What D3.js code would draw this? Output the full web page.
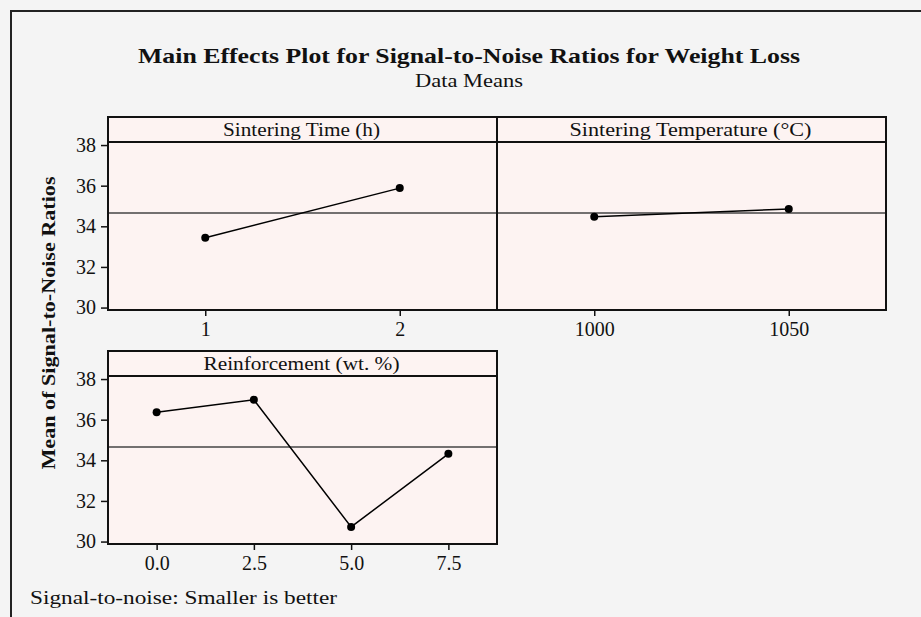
<!DOCTYPE html>
<html>
<head>
<meta charset="utf-8">
<script src="https://cdn.jsdelivr.net/npm/d3@7"></script>
<style>
  body { margin: 0; background: #f4f4f4; }
  svg text { font-family: "Liberation Serif", serif; fill: #111; }
  .axis path, .axis line { stroke: #111; stroke-width: 1.5; }
</style>
</head>
<body>
<div class="chart"></div>
<script>
// data
const factorNames = ["Sintering Time (h)", "Sintering Temperature (°C)", "Reinforcement (wt. %)"];
const timeLevels = ["1", "2"];
const timeMeans = [33.44, 35.88];
const tempLevels = ["1000", "1050"];
const tempMeans = [34.47, 34.85];
const reinfLevels = ["0.0", "2.5", "5.0", "7.5"];
const reinfMeans = [36.37, 36.98, 30.72, 34.32];
const yTicks = [30, 32, 34, 36, 38];
const grandMean = 34.66;

const W = 921, H = 617;
const panelW = 389, stripH = 25, plotH = 168;

const svg = d3.select(".chart")
    .append("svg")
    .attr("width", W)
    .attr("height", H);

svg.append("rect")
    .attr("width", W).attr("height", H)
    .attr("fill", "#f4f4f4");

// outer frame (runs off the right and bottom edges)
svg.append("rect")
    .attr("x", 11).attr("y", 11)
    .attr("width", W + 20).attr("height", H + 20)
    .attr("fill", "none")
    .attr("stroke", "#222")
    .attr("stroke-width", 2);

// the reference font is wider than Liberation Serif, so stretch to its widths
function label(sel, x, y, size, width, txt) {
    return sel.append("text")
        .attr("x", x).attr("y", y)
        .attr("font-size", size)
        .attr("textLength", width)
        .attr("lengthAdjust", "spacingAndGlyphs")
        .text(txt);
}

label(svg, 469, 63, 22, 662, "Main Effects Plot for Signal-to-Noise Ratios for Weight Loss")
    .attr("text-anchor", "middle")
    .attr("font-weight", "bold");

label(svg, 469, 87, 18, 108, "Data Means")
    .attr("text-anchor", "middle");

label(svg, 0, 0, 19, 293, "Mean of Signal-to-Noise Ratios")
    .attr("transform", "translate(55,323) rotate(-90)")
    .attr("text-anchor", "middle")
    .attr("font-weight", "bold");

label(svg, 30, 604, 19, 307, "Signal-to-noise: Smaller is better");

const stripWidths = [157, 242, 196];

const panels = [
    {name: factorNames[0], levels: timeLevels, means: timeMeans, x: 108, y: 117, yAxis: true, w: stripWidths[0]},
    {name: factorNames[1], levels: tempLevels, means: tempMeans, x: 497, y: 117, yAxis: false, w: stripWidths[1]},
    {name: factorNames[2], levels: reinfLevels, means: reinfMeans, x: 108, y: 351, yAxis: true, w: stripWidths[2]}
];

const yScale = d3.scaleLinear()
    .domain([29.88, 38.15])
    .range([plotH, 0]);

panels.forEach(p => {
    const g = svg.append("g")
        .attr("transform", "translate(" + p.x + "," + p.y + ")");

    const xScale = d3.scalePoint()
        .domain(p.levels)
        .range([0, panelW])
        .padding(0.5);

    // strip
    g.append("rect")
        .attr("width", panelW).attr("height", stripH)
        .attr("fill", "#fdf3f2");
    label(g, panelW / 2 - 1, 19, 19, p.w, p.name)
        .attr("text-anchor", "middle");

    const pg = g.append("g")
        .attr("transform", "translate(0," + stripH + ")");

    pg.append("rect")
        .attr("width", panelW).attr("height", plotH)
        .attr("fill", "#fdf3f2");

    // grand mean reference line
    pg.append("line")
        .attr("x1", 0).attr("x2", panelW)
        .attr("y1", yScale(grandMean)).attr("y2", yScale(grandMean))
        .attr("stroke", "#444")
        .attr("stroke-width", 1.5);

    const line = d3.line()
        .x((d, i) => xScale(p.levels[i]))
        .y(d => yScale(d));

    pg.append("path")
        .datum(p.means)
        .attr("d", line)
        .attr("fill", "none")
        .attr("stroke", "#000")
        .attr("stroke-width", 1.5);

    pg.selectAll(".pt")
        .data(p.means)
        .join("circle")
        .attr("class", "pt")
        .attr("cx", (d, i) => xScale(p.levels[i]))
        .attr("cy", d => yScale(d))
        .attr("r", 4)
        .attr("fill", "#000");

    const xAxis = d3.axisBottom(xScale)
        .tickSize(6)
        .tickSizeOuter(0)
        .tickPadding(6);

    pg.append("g")
        .attr("class", "axis")
        .attr("transform", "translate(0," + plotH + ")")
        .call(xAxis)
        .call(a => a.select(".domain").remove())
        .call(a => a.selectAll("text")
            .attr("font-size", 20)
            .style("font-family", "Liberation Serif, serif"));

    if (p.yAxis) {
        const yAxis = d3.axisLeft(yScale)
            .tickValues(yTicks)
            .tickSize(7)
            .tickSizeOuter(0)
            .tickPadding(5);
        pg.append("g")
            .attr("class", "axis")
            .call(yAxis)
            .call(a => a.select(".domain").remove())
            .call(a => a.selectAll("text")
                .attr("font-size", 20)
                .style("font-family", "Liberation Serif, serif"));
    }

    // borders
    g.append("rect")
        .attr("width", panelW).attr("height", stripH + plotH)
        .attr("fill", "none")
        .attr("stroke", "#111")
        .attr("stroke-width", 2);
    g.append("line")
        .attr("x1", 0).attr("x2", panelW)
        .attr("y1", stripH).attr("y2", stripH)
        .attr("stroke", "#111")
        .attr("stroke-width", 2);
});
</script>
</body>
</html>
